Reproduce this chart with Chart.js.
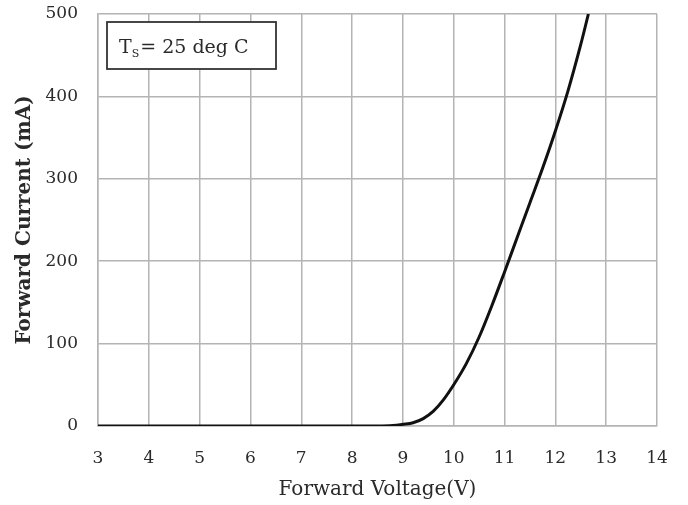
<!DOCTYPE html>
<html>
<head>
<meta charset="utf-8">
<script src="https://cdn.jsdelivr.net/npm/chart.js@4/dist/chart.umd.min.js"></script>
<style>
  html, body { margin: 0; padding: 0; background: #fff; }
  #wrap { width: 688px; height: 505px; }
</style>
</head>
<body>
<div id="wrap"><canvas id="c" width="688" height="505"></canvas></div>
<script>
// Forward voltage (V) and forward current (mA)
const voltage = [3, 5, 7, 8, 8.5, 8.8, 9.0, 9.2, 9.4, 9.6, 9.8, 10.0, 10.25, 10.5, 10.75, 11.0, 11.25, 11.5, 11.75, 12.0, 12.25, 12.5, 12.65];
const current = [0, 0, 0, 0, 0, 0.5, 2, 4, 9, 18, 32, 50, 76, 108, 146, 187, 229, 271, 313, 358, 407, 463, 500];
const xTicks = [3, 4, 5, 6, 7, 8, 9, 10, 11, 12, 13, 14];
const yTicks = [0, 100, 200, 300, 400, 500];
const annotationText = ['T', 'S', '= 25 deg C'];

const points = voltage.map((v, i) => ({ x: v, y: current[i] }));
const gridColor = '#b4b4b4';
const serif = '"DejaVu Serif", "Liberation Serif", serif';

const boxPlugin = {
  id: 'tsBox',
  afterDraw(chart) {
    const ctx = chart.ctx;
    const a = chart.chartArea;
    const x0 = a.left + 9, y0 = a.top + 8, w = 169, h = 47;
    ctx.save();
    ctx.fillStyle = '#fff';
    ctx.fillRect(x0, y0, w, h);
    ctx.strokeStyle = '#333';
    ctx.lineWidth = 1.8;
    ctx.strokeRect(x0, y0, w, h);
    ctx.fillStyle = '#2a2a2a';
    ctx.textBaseline = 'alphabetic';
    ctx.font = '19px ' + serif;
    let tx = x0 + 12, ty = y0 + 31;
    ctx.fillText(annotationText[0], tx, ty);
    tx += ctx.measureText(annotationText[0]).width;
    ctx.font = '11px ' + serif;
    ctx.fillText(annotationText[1], tx, ty + 4);
    tx += ctx.measureText(annotationText[1]).width + 1;
    ctx.font = '19px ' + serif;
    ctx.fillText(annotationText[2], tx, ty);
    ctx.restore();
  }
};

new Chart(document.getElementById('c'), {
  type: 'scatter',
  data: {
    datasets: [{
      data: points,
      showLine: true,
      borderColor: '#111',
      borderWidth: 3,
      pointRadius: 0,
      cubicInterpolationMode: 'monotone',
      fill: false
    }]
  },
  options: {
    responsive: false,
    animation: false,
    events: [],
    layout: { padding: { left: 0, right: 31, top: 14, bottom: 0 } },
    plugins: { legend: { display: false }, tooltip: { enabled: false } },
    scales: {
      x: {
        type: 'linear',
        min: 3, max: 14,
        afterBuildTicks(s) { s.ticks = xTicks.map(v => ({ value: v })); },
        afterFit(s) { s.height = 79; s.paddingLeft = 0; s.paddingRight = 0; },
        grid: { color: gridColor, lineWidth: 1.5, drawTicks: false },
        border: { color: gridColor, width: 1.5 },
        ticks: { padding: 22, color: '#2a2a2a', font: { family: serif, size: 17 }, maxRotation: 0 },
        title: { display: true, text: 'Forward Voltage(V)', color: '#2a2a2a',
                 font: { family: serif, size: 20 }, padding: { top: 0, bottom: 3 } }
      },
      y: {
        type: 'linear',
        min: 0, max: 500,
        afterBuildTicks(s) { s.ticks = yTicks.map(v => ({ value: v })); },
        afterFit(s) { s.width = 98; s.paddingTop = 0; s.paddingBottom = 0; },
        grid: { color: gridColor, lineWidth: 1.5, drawTicks: false },
        border: { color: gridColor, width: 1.5 },
        ticks: { padding: 20, color: '#2a2a2a', font: { family: serif, size: 17 } },
        title: { display: true, text: 'Forward Current (mA)', color: '#2a2a2a',
                 font: { family: serif, size: 20, weight: 'bold' }, padding: { top: 13, bottom: 0 } }
      }
    }
  },
  plugins: [boxPlugin]
});
</script>
</body>
</html>
